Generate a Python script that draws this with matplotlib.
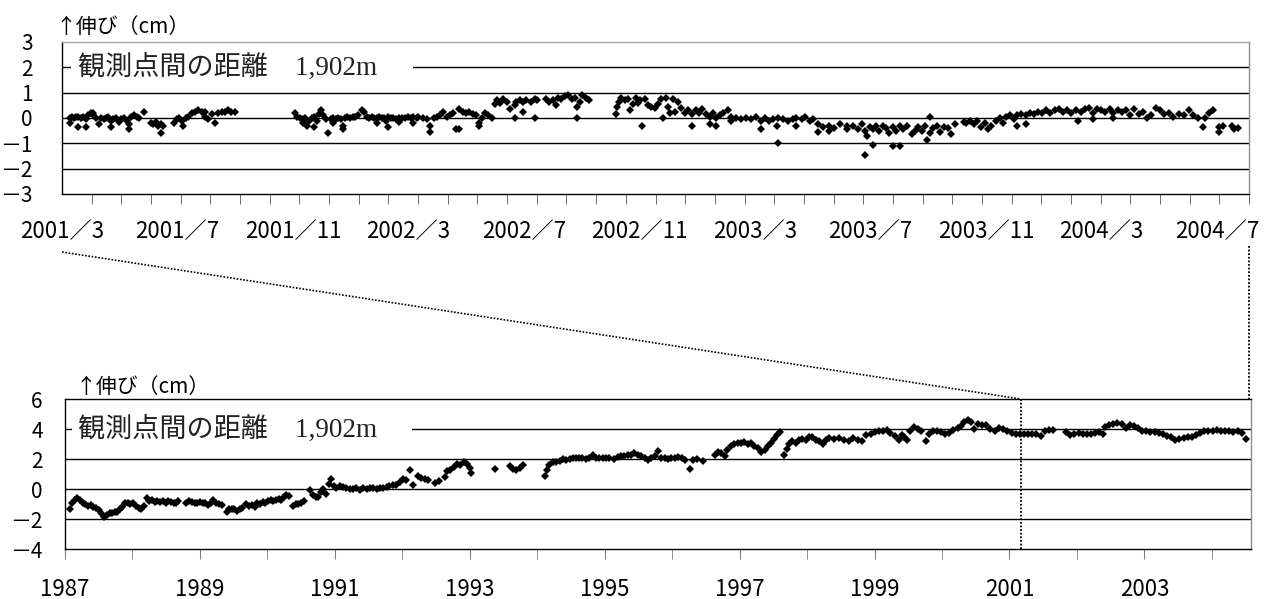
import numpy as np
import matplotlib.pyplot as plt
from matplotlib.lines import Line2D
from matplotlib.patches import Rectangle

plt.rcParams['font.family'] = ['Noto Sans CJK JP', 'DejaVu Sans']

# upper chart: (months after 2001/3/1, elongation cm)
top_seg1 = [(0.27, -0.2), (0.27, 0.0), (0.33, 0.05), (0.41, 0.0), (0.47, 0.05), (0.55, -0.35),
            (0.55, 0.05), (0.63, 0.0), (0.72, 0.05), (0.81, -0.05), (0.81, -0.35), (0.89, 0.1),
            (0.97, 0.2), (1.06, 0.2), (1.06, 0.1), (1.15, 0.0), (1.23, -0.25), (1.31, 0.0),
            (1.40, -0.05), (1.48, 0.0), (1.56, 0.05), (1.64, -0.35), (1.64, -0.1), (1.73, -0.05),
            (1.82, 0.0), (1.91, -0.15), (2.0, -0.05), (2.09, 0.0), (2.18, -0.1), (2.25, -0.45),
            (2.25, -0.25), (2.34, 0.05), (2.43, 0.1), (2.52, 0.05), (2.61, 0.0), (2.78, 0.25),
            (2.99, -0.2), (3.08, -0.25), (3.17, -0.15), (3.25, -0.3), (3.34, -0.6), (3.34, -0.25),
            (3.42, -0.3), (3.77, -0.2), (3.86, -0.05), (3.95, 0.0), (4.03, -0.1), (4.09, -0.3),
            (4.18, 0.0), (4.26, 0.05), (4.37, 0.2), (4.48, 0.25), (4.59, 0.3), (4.71, 0.25),
            (4.82, 0.25), (4.82, 0.05), (4.93, -0.05), (5.04, 0.15), (5.15, -0.2), (5.27, 0.2),
            (5.38, 0.25), (5.49, 0.25), (5.6, 0.3), (5.71, 0.25), (5.83, 0.25)]

top_seg2 = [(7.85, 0.2), (7.93, 0.05), (8.02, 0.0), (8.11, -0.05), (8.11, -0.2), (8.19, 0.0),
            (8.25, -0.3), (8.34, -0.1), (8.42, 0.0), (8.49, -0.35), (8.49, 0.05), (8.58, -0.1),
            (8.66, 0.15), (8.73, 0.3), (8.8, 0.1), (8.89, -0.05), (8.97, -0.6), (9.05, -0.05),
            (9.14, -0.2), (9.14, 0.0), (9.23, -0.05), (9.31, 0.0), (9.39, -0.05), (9.46, -0.45),
            (9.46, -0.3), (9.54, 0.0), (9.62, 0.05), (9.71, 0.0), (9.8, 0.05), (9.89, 0.05),
            (9.99, 0.1), (10.1, 0.3), (10.19, 0.25), (10.27, 0.05), (10.36, 0.0), (10.44, 0.05),
            (10.52, 0.0), (10.6, -0.2), (10.6, 0.0), (10.69, 0.05), (10.77, 0.0), (10.85, 0.0),
            (10.92, -0.1), (11.0, -0.35), (11.0, 0.05), (11.08, 0.0), (11.17, 0.0), (11.26, -0.05),
            (11.34, -0.15), (11.34, 0.0), (11.45, 0.0), (11.56, 0.0), (11.67, 0.05), (11.75, 0.0),
            (11.84, -0.2), (11.84, 0.05), (11.95, 0.0), (12.01, 0.05), (12.18, 0.0), (12.29, -0.05),
            (12.4, -0.3), (12.4, -0.55), (12.52, 0.0), (12.63, 0.05), (12.74, 0.1), (12.85, 0.25),
            (12.96, 0.05), (13.07, 0.1), (13.19, 0.2), (13.28, -0.45), (13.39, 0.35), (13.39, -0.45),
            (13.5, 0.25), (13.61, 0.2), (13.73, 0.25), (13.84, 0.15), (13.95, 0.1), (14.04, -0.2),
            (14.04, -0.3), (14.14, 0.0), (14.25, 0.2), (14.36, 0.1), (14.48, 0.0), (14.59, 0.55),
            (14.67, 0.7), (14.76, 0.6), (14.87, 0.75), (14.98, 0.65), (15.09, 0.35), (15.26, 0.0),
            (15.26, 0.5), (15.31, 0.65), (15.43, 0.7), (15.54, 0.25), (15.54, 0.65), (15.65, 0.7),
            (15.79, 0.65), (15.93, 0.0), (15.93, 0.75), (16.01, 0.7), (16.3, 0.75), (16.41, 0.65),
            (16.53, 0.7), (16.64, 0.5), (16.72, 0.8), (16.83, 0.75), (16.95, 0.85), (17.06, 0.9),
            (17.17, 0.75), (17.28, 0.8), (17.34, 0.0), (17.34, 0.45), (17.45, 0.65), (17.54, 0.9),
            (17.65, 0.8), (17.76, 0.7)]

top_seg3 = [(18.66, 0.15), (18.7, 0.45), (18.77, 0.65), (18.85, 0.8), (18.96, 0.7), (19.07, 0.75),
            (19.15, 0.3), (19.24, 0.55), (19.33, 0.8), (19.4, 0.6), (19.48, 0.7), (19.55, -0.3),
            (19.63, 0.75), (19.74, 0.5), (19.85, 0.45), (19.97, 0.4), (20.08, 0.55), (20.19, 0.75),
            (20.25, 0.0), (20.34, 0.8), (20.42, 0.45), (20.5, 0.2), (20.59, 0.75), (20.65, 0.25),
            (20.75, 0.65), (20.87, 0.4), (20.98, 0.2), (21.09, 0.3), (21.24, -0.3), (21.24, 0.15),
            (21.35, 0.3), (21.46, 0.2), (21.58, 0.35), (21.69, 0.15), (21.82, -0.25), (21.82, 0.05),
            (21.93, 0.2), (22.05, -0.3), (22.05, 0.0), (22.16, 0.1), (22.27, 0.2), (22.44, 0.3),
            (22.55, -0.1), (22.55, 0.05), (22.72, 0.0), (22.89, -0.05), (23.06, 0.0), (23.23, -0.05),
            (23.4, 0.05), (23.55, -0.45), (23.55, -0.1), (23.68, 0.0), (23.83, -0.1), (23.96, -0.05),
            (24.08, -0.3), (24.14, -1.0), (24.14, 0.0), (24.3, -0.05), (24.47, -0.1), (24.62, -0.05),
            (24.75, -0.3), (24.75, 0.0), (24.92, -0.05), (25.04, 0.05), (25.19, -0.1), (25.32, -0.05),
            (25.49, -0.55), (25.49, -0.25), (25.66, -0.35), (25.83, -0.5), (25.83, -0.3), (26.0, -0.4),
            (26.23, -0.25), (26.45, -0.45), (26.45, -0.3), (26.67, -0.3), (26.84, -0.45), (26.95, -0.25),
            (27.06, -1.45), (27.06, -0.5), (27.14, -0.7), (27.23, -0.35), (27.32, -1.05), (27.32, -0.45),
            (27.43, -0.3), (27.54, -0.5), (27.66, -0.3), (27.77, -0.4), (27.88, -0.6), (27.99, -1.1),
            (27.99, -0.35), (28.1, -0.5), (28.24, -1.1), (28.24, -0.3), (28.35, -0.45), (28.48, -0.3),
            (28.63, -0.65), (28.74, -0.5), (28.86, -0.35), (28.97, -0.5), (29.08, -0.3), (29.16, -0.85),
            (29.25, 0.05), (29.25, -0.6), (29.36, -0.4), (29.47, -0.3), (29.58, -0.55), (29.72, -0.35),
            (29.86, -0.4), (29.97, -0.65), (30.09, -0.25), (30.39, -0.15), (30.48, -0.2), (30.59, -0.1),
            (30.73, -0.25), (30.84, -0.1), (30.98, -0.35), (31.09, -0.2), (31.21, -0.45), (31.32, -0.3),
            (31.46, -0.1), (31.6, 0.0), (31.71, -0.2), (31.82, 0.05), (31.96, 0.1), (32.07, -0.05),
            (32.18, -0.3), (32.18, 0.1), (32.33, 0.15), (32.47, -0.25), (32.47, 0.1), (32.61, 0.2),
            (32.74, 0.15), (32.89, 0.25), (33.03, 0.2), (33.17, 0.3), (33.3, 0.2), (33.45, 0.3),
            (33.6, 0.35), (33.73, 0.25), (33.87, 0.3), (34.01, 0.2), (34.16, 0.3), (34.24, -0.1),
            (34.35, 0.25), (34.49, 0.35), (34.62, 0.4), (34.73, -0.05), (34.73, 0.2), (34.87, 0.35),
            (35.02, 0.3), (35.16, 0.25), (35.3, 0.35), (35.43, 0.0), (35.43, 0.2), (35.58, 0.3),
            (35.72, 0.25), (35.86, 0.3), (35.99, 0.1), (36.14, 0.35), (36.28, 0.15), (36.42, 0.25),
            (36.55, 0.0), (36.7, 0.1), (36.87, 0.4), (37.0, 0.3), (37.15, 0.15), (37.29, 0.2),
            (37.43, 0.05), (37.65, 0.15), (37.82, 0.1), (37.97, 0.3), (38.1, 0.1), (38.27, 0.0),
            (38.44, -0.35), (38.53, 0.0), (38.64, 0.2), (38.78, 0.3), (39.0, -0.35), (39.0, -0.55),
            (39.13, -0.3), (39.43, -0.3), (39.51, -0.45), (39.62, -0.4)]

top_yticks = [-3, -2, -1, 0, 1, 2, 3]
top_tick_labels = ['2001／3', '2001／7', '2001／11', '2002／3', '2002／7', '2002／11',
                   '2003／3', '2003／7', '2003／11', '2004／3', '2004／7']

# lower chart: (decimal year, elongation cm)
bottom_a = [(1987.07, -1.3), (1987.11, -0.9), (1987.15, -0.7), (1987.18, -0.6), (1987.22, -0.75),
            (1987.26, -0.95), (1987.30, -1.0), (1987.34, -1.1), (1987.38, -1.05), (1987.42, -1.2),
            (1987.46, -1.25), (1987.5, -1.4), (1987.54, -1.6), (1987.58, -1.85), (1987.62, -1.75),
            (1987.66, -1.6), (1987.7, -1.6), (1987.74, -1.55), (1987.77, -1.5), (1987.81, -1.35),
            (1987.85, -1.2), (1987.89, -0.9), (1987.93, -0.95), (1987.97, -1.0), (1988.01, -0.95),
            (1988.05, -1.1), (1988.09, -1.25), (1988.13, -1.3), (1988.17, -1.1), (1988.21, -0.6),
            (1988.25, -0.8), (1988.29, -0.75), (1988.33, -0.85), (1988.37, -0.8), (1988.41, -0.85),
            (1988.45, -0.8), (1988.49, -0.9), (1988.53, -0.8), (1988.57, -0.85), (1988.61, -0.9),
            (1988.64, -0.95), (1988.68, -0.8), (1988.8, -0.9), (1988.84, -0.8), (1988.88, -0.85),
            (1988.92, -0.9), (1988.96, -0.9), (1989.0, -0.85), (1989.04, -0.95), (1989.08, -0.95),
            (1989.12, -1.05), (1989.16, -0.95), (1989.2, -0.75), (1989.24, -0.9), (1989.28, -1.0),
            (1989.32, -1.05), (1989.4, -1.55), (1989.43, -1.3), (1989.47, -1.35), (1989.51, -1.3),
            (1989.55, -1.45), (1989.59, -1.35), (1989.63, -1.25), (1989.69, -1.0), (1989.73, -1.1),
            (1989.77, -1.05), (1989.81, -1.2), (1989.85, -0.95), (1989.89, -1.0), (1989.93, -0.85),
            (1989.97, -0.9), (1990.01, -0.8), (1990.05, -0.75), (1990.09, -0.8), (1990.13, -0.7),
            (1990.17, -0.65), (1990.2, -0.7), (1990.24, -0.55), (1990.28, -0.4), (1990.32, -0.45),
            (1990.38, -1.15), (1990.42, -1.0), (1990.46, -1.0), (1990.5, -0.9), (1990.54, -0.8),
            (1990.63, -0.05), (1990.68, -0.4), (1990.72, -0.55), (1990.75, -0.5), (1990.8, -0.2),
            (1990.83, 0.0), (1990.87, -0.3), (1990.91, 0.35), (1990.95, 0.7), (1990.98, 0.2),
            (1991.02, 0.05), (1991.07, 0.2), (1991.12, 0.15), (1991.17, 0.05), (1991.22, 0.0),
            (1991.27, 0.0), (1991.32, 0.05), (1991.37, -0.05), (1991.42, 0.05), (1991.47, 0.0),
            (1991.52, 0.05), (1991.57, 0.05), (1991.62, 0.0), (1991.67, 0.05), (1991.72, 0.1),
            (1991.77, 0.15), (1991.81, 0.2), (1991.86, 0.3), (1991.91, 0.25), (1991.96, 0.5),
            (1992.01, 0.7), (1992.06, 0.6), (1992.12, 1.3), (1992.16, 0.3), (1992.23, 0.9),
            (1992.28, 0.75), (1992.33, 0.7), (1992.38, 0.6), (1992.48, 0.4), (1992.54, 0.55),
            (1992.63, 0.8)]

bottom_b = [(1992.66, 1.2), (1992.71, 1.3), (1992.76, 1.5), (1992.81, 1.7), (1992.86, 1.6),
            (1992.91, 1.8), (1992.96, 1.65), (1993.0, 1.4), (1993.02, 1.1), (1993.37, 1.35),
            (1993.59, 1.55), (1993.64, 1.35), (1993.69, 1.3), (1993.74, 1.4), (1993.79, 1.6),
            (1994.11, 0.9), (1994.14, 1.3), (1994.18, 1.6), (1994.23, 1.8), (1994.28, 1.8),
            (1994.33, 1.9), (1994.38, 2.0), (1994.43, 1.95), (1994.48, 2.0), (1994.53, 2.1),
            (1994.58, 2.05), (1994.62, 2.05), (1994.67, 2.05), (1994.72, 2.0), (1994.77, 2.1),
            (1994.82, 2.3), (1994.87, 2.1), (1994.92, 2.05), (1994.97, 2.1), (1995.02, 2.05),
            (1995.07, 2.05), (1995.14, 2.0), (1995.19, 2.15), (1995.24, 2.2), (1995.29, 2.2),
            (1995.34, 2.25), (1995.39, 2.3), (1995.44, 2.4), (1995.49, 2.3), (1995.54, 2.2),
            (1995.59, 2.1), (1995.64, 1.95), (1995.69, 2.05), (1995.74, 2.2), (1995.79, 2.55),
            (1995.84, 2.05), (1995.89, 2.1), (1995.94, 2.0), (1995.99, 2.1), (1996.04, 2.05),
            (1996.09, 2.15), (1996.14, 2.05), (1996.19, 1.95), (1996.27, 1.35), (1996.31, 1.95),
            (1996.37, 2.0), (1996.45, 1.85), (1996.63, 2.3), (1996.68, 2.5), (1996.73, 2.4),
            (1996.78, 2.2), (1996.82, 2.6), (1996.87, 2.9), (1996.92, 3.0), (1996.97, 3.1),
            (1997.02, 3.05), (1997.07, 3.15), (1997.12, 3.0), (1997.17, 3.05), (1997.22, 2.9),
            (1997.27, 2.75), (1997.32, 2.5), (1997.37, 2.6), (1997.42, 2.9), (1997.47, 3.1),
            (1997.51, 3.35), (1997.56, 3.6), (1997.6, 3.8), (1997.66, 2.3), (1997.7, 2.7),
            (1997.73, 3.0), (1997.78, 3.2), (1997.83, 3.1), (1997.88, 3.3), (1997.93, 3.35),
            (1997.98, 3.3), (1998.03, 3.5), (1998.08, 3.45), (1998.13, 3.25), (1998.18, 3.2),
            (1998.23, 3.0), (1998.28, 3.3), (1998.33, 3.4), (1998.4, 3.35), (1998.48, 3.4),
            (1998.55, 3.3), (1998.62, 3.2)]

bottom_c = [(1998.68, 3.4), (1998.75, 3.25), (1998.82, 3.2), (1998.88, 3.6), (1998.94, 3.7),
            (1999.0, 3.8), (1999.06, 3.85), (1999.12, 3.9), (1999.18, 3.95), (1999.23, 3.75),
            (1999.3, 3.55), (1999.36, 3.25), (1999.4, 3.6), (1999.44, 3.5), (1999.48, 3.25),
            (1999.53, 3.85), (1999.59, 4.15), (1999.64, 4.0), (1999.69, 3.9), (1999.76, 3.2),
            (1999.81, 3.7), (1999.86, 3.85), (1999.92, 3.9), (1999.99, 3.8), (2000.05, 3.65),
            (2000.11, 3.75), (2000.17, 3.95), (2000.23, 4.1), (2000.28, 4.2), (2000.33, 4.5),
            (2000.38, 4.6), (2000.43, 4.45), (2000.47, 4.0), (2000.53, 4.35), (2000.6, 4.3),
            (2000.65, 4.25), (2000.71, 4.0), (2000.78, 3.9), (2000.84, 4.05), (2000.9, 4.0),
            (2000.96, 3.9), (2001.03, 3.75), (2001.09, 3.65), (2001.15, 3.7), (2001.21, 3.65),
            (2001.27, 3.7), (2001.34, 3.65), (2001.4, 3.7), (2001.46, 3.55), (2001.52, 3.85),
            (2001.58, 3.95), (2001.64, 3.95), (2001.84, 3.8), (2001.9, 3.6), (2001.96, 3.65),
            (2002.03, 3.75), (2002.09, 3.7), (2002.15, 3.65), (2002.21, 3.7), (2002.27, 3.75),
            (2002.33, 3.8), (2002.38, 3.7), (2002.42, 4.15), (2002.48, 4.3), (2002.54, 4.35),
            (2002.6, 4.4), (2002.67, 4.35), (2002.73, 4.05), (2002.79, 4.3), (2002.85, 4.2),
            (2002.9, 4.1), (2002.97, 3.9), (2003.03, 3.85), (2003.08, 3.8), (2003.15, 3.8),
            (2003.21, 3.75), (2003.27, 3.7), (2003.33, 3.55), (2003.4, 3.45), (2003.46, 3.25),
            (2003.52, 3.35), (2003.58, 3.4), (2003.64, 3.45), (2003.71, 3.5), (2003.77, 3.6),
            (2003.83, 3.75), (2003.89, 3.85), (2003.95, 3.9), (2004.01, 3.9), (2004.07, 3.95),
            (2004.14, 3.9), (2004.2, 3.85), (2004.26, 3.9), (2004.32, 3.8), (2004.38, 3.85),
            (2004.45, 3.75), (2004.51, 3.35)]

bottom_yticks = [-4, -2, 0, 2, 4, 6]
bottom_tick_labels = ['1987', '1989', '1991', '1993', '1995', '1997', '1999', '2001', '2003']

label_text = '観測点間の距離　1,902m'
y_title = '↑伸び（cm）'

W, H = 1273, 599
fig = plt.figure(figsize=(W / 100, H / 100), dpi=100)


def px_box(left, top, right, bottom):
    return [left / W, 1 - bottom / H, (right - left) / W, (bottom - top) / H]


def style(ax, yticks, grid_vals, gray_top):
    ax.set_yticks(yticks)
    # wide minus as in the original Gothic font
    ax.set_yticklabels([str(v).replace('-', '\uff0d') for v in yticks], fontsize=15)
    for v in grid_vals:
        ax.axhline(v, color='black', lw=1.0, zorder=1)
    for side in ['left', 'bottom']:
        ax.spines[side].set_color('black')
    ax.spines['right'].set_color('#8c8c8c')
    ax.spines['top'].set_color('#a0a0a0' if gray_top else 'black')
    for sp in ax.spines.values():
        sp.set_linewidth(1.0)


# ---- upper chart ----
ax1 = fig.add_axes(px_box(62, 42, 1249, 194))
pts = np.array(top_seg1 + top_seg2 + top_seg3)
ax1.plot(pts[:, 0], pts[:, 1], 'D', color='black', ms=3.9, mew=0, zorder=3)
ax1.set_xlim(0, 40)
ax1.set_ylim(-3, 3)
style(ax1, top_yticks, [-2, -1, 0, 1, 2], True)
# the original labels sit slightly tighter than the monthly ticks
label_step = 3.892
ax1.set_xticks(np.arange(len(top_tick_labels)) * label_step)
ax1.set_xticklabels(top_tick_labels, fontsize=16)
ax1.set_xticks(np.arange(0, 41, 1), minor=True)
ax1.tick_params(axis='x', which='major', length=0, pad=19)
ax1.tick_params(axis='x', which='minor', length=7, color='#555555')
ax1.tick_params(axis='y', length=0, pad=21)
ax1.add_patch(Rectangle((0.0076, 0.77), 0.288, 0.12, transform=ax1.transAxes,
                        facecolor='white', edgecolor='none', zorder=2))
ax1.text(0.0135, 5 / 6, label_text, transform=ax1.transAxes, va='center', ha='left',
         fontsize=19.5, color='#222222', family=['Liberation Serif', 'Noto Sans CJK JP'], zorder=4)
fig.text(55 / W, 1 - 27 / H, y_title, fontsize=15, va='center', ha='left')

# ---- lower chart ----
ax2 = fig.add_axes(px_box(65, 399, 1251, 549))
pts = np.array(bottom_a + bottom_b + bottom_c)
ax2.plot(pts[:, 0], pts[:, 1], 'D', color='black', ms=3.6, mew=0, zorder=3)
ax2.set_xlim(1987, 2004.58)
ax2.set_ylim(-4, 6)
style(ax2, bottom_yticks, [-2, 0, 2, 4], False)
ax2.set_xticks(np.arange(1987, 2004, 2))
ax2.set_xticklabels(bottom_tick_labels, fontsize=16)
ax2.set_xticks(np.arange(1987, 2005, 1), minor=True)
ax2.tick_params(axis='x', which='both', length=7, color='#808080', pad=14)
ax2.tick_params(axis='y', length=0, pad=16)
ax2.add_patch(Rectangle((0.006, 0.74), 0.287, 0.12, transform=ax2.transAxes,
                        facecolor='white', edgecolor='none', zorder=2))
ax2.text(0.011, 0.8, label_text, transform=ax2.transAxes, va='center', ha='left',
         fontsize=19.5, color='#222222', family=['Liberation Serif', 'Noto Sans CJK JP'], zorder=4)
fig.text(75 / W, 1 - 387 / H, y_title, fontsize=15, va='center', ha='left')

# ---- zoom connectors (dotted) ----
zoom_start = 2001 + 2 / 12
ax2.axvline(zoom_start, color='black', lw=1.3, ls=(0, (1, 1)), zorder=4)
fig_tr = fig.transFigure.inverted()
x_end, y_end = fig_tr.transform(ax2.transData.transform((zoom_start, 6)))
x_left = ax1.get_position().x0
x_right = ax1.get_position().x1
fig.add_artist(Line2D([x_left, x_end], [1 - 252 / H, y_end], transform=fig.transFigure,
                      color='black', lw=1.2, ls=(0, (1, 1))))
fig.add_artist(Line2D([x_right, x_right], [1 - 246 / H, y_end], transform=fig.transFigure,
                      color='black', lw=1.3, ls=(0, (1, 1))))

fig.savefig('out.png', dpi=100)
